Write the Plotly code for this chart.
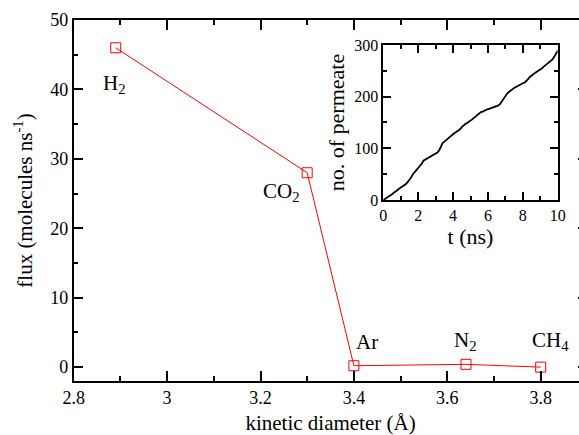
import plotly.graph_objects as go

# Main data
gases = ["H<sub>2</sub>", "CO<sub>2</sub>", "Ar", "N<sub>2</sub>", "CH<sub>4</sub>"]
kinetic_diameter = [2.89, 3.30, 3.40, 3.64, 3.80]
flux = [46.0, 28.0, 0.2, 0.4, 0.0]
label_x = [2.887, 3.245, 3.429, 3.638, 3.82]
label_y = [40.8, 25.2, 3.6, 3.8, 3.7]

# Inset data
t_ns = [round(i * 0.1, 1) for i in range(101)]
permeate = [0, 2, 4, 6, 9, 11, 14, 16, 19, 22, 24,
            26, 28, 31, 35, 39, 44, 50, 54, 57, 60,
            64, 70, 76, 78, 81, 83, 85, 86, 88, 90,
            92, 96, 104, 110, 113, 116, 118, 121, 124, 128,
            130, 132, 134, 137, 141, 145, 147, 149, 151, 153,
            156, 159, 162, 165, 168, 170, 171, 173, 175, 176,
            177, 178, 179, 180, 182, 183, 186, 191, 197, 202,
            206, 209, 211, 214, 217, 219, 221, 223, 225, 226,
            227, 230, 234, 238, 241, 244, 246, 248, 250, 252,
            255, 258, 261, 264, 266, 269, 272, 277, 283, 289]

FONT = "Liberation Serif"
W = 588  # figure slightly wider than the 579 px window; the right frame falls just outside, as in the reference

fig = go.Figure()
fig.add_trace(go.Scatter(
    x=kinetic_diameter, y=flux, mode="lines+markers",
    line=dict(color="red", width=1),
    marker=dict(symbol="square-open", size=10, color="red", line=dict(width=1, color="red")),
    showlegend=False, xaxis="x", yaxis="y"))
fig.add_trace(go.Scatter(
    x=t_ns, y=permeate, mode="lines",
    line=dict(color="black", width=1.8),
    showlegend=False, xaxis="x2", yaxis="y2"))

for g, lx, ly in zip(gases, label_x, label_y):
    fig.add_annotation(x=lx, y=ly, xref="x", yref="y", text=g, showarrow=False,
                       font=dict(family=FONT, size=21, color="black"),
                       xanchor="center", yanchor="middle")


def axis_style(size):
    return dict(showline=True, linecolor="black", linewidth=1.5, mirror="ticks",
                ticks="inside", tickcolor="black", tickwidth=1.5,
                showgrid=False, zeroline=False, automargin=False,
                tickfont=dict(family=FONT, size=size, color="black"))


fig.update_layout(
    width=W, height=435,
    margin=dict(l=0, r=0, t=0, b=0),
    font=dict(family=FONT, color="black", size=18),
    paper_bgcolor="white", plot_bgcolor="white",
    xaxis=dict(domain=[73.7 / W, 587.4 / W], range=[2.8, 3.9], tickvals=[2.8, 3.0, 3.2, 3.4, 3.6, 3.8],
               ticktext=["2.8", "3", "3.2", "3.4", "3.6", "3.8"], ticklen=10,
               minor=dict(ticks="inside", dtick=0.1, tick0=2.8, ticklen=5, tickcolor="black", tickwidth=1.5),
               title=dict(text="kinetic diameter (Å)", font=dict(family=FONT, size=21, color="black"), standoff=10),
               anchor="y", **axis_style(18)),
    yaxis=dict(domain=[0.1241, 0.954], range=[-2, 50], tickvals=[0, 10, 20, 30, 40, 50], ticklen=10,
               minor=dict(ticks="inside", dtick=5, tick0=0, ticklen=5, tickcolor="black", tickwidth=1.5),
               title=dict(text="flux (molecules ns<sup>-1</sup>)", font=dict(family=FONT, size=21, color="black"), standoff=12),
               anchor="x", **axis_style(18)),
    xaxis2=dict(domain=[383.3 / W, 557.7 / W], range=[0, 10], tickvals=[0, 2, 4, 6, 8, 10], ticklen=8,
                minor=dict(ticks="inside", dtick=1, tick0=0, ticklen=4, tickcolor="black", tickwidth=1.5),
                title=dict(text="t (ns)", font=dict(family=FONT, size=22, color="black"), standoff=0),
                anchor="y2", **axis_style(16)),
    yaxis2=dict(domain=[0.5402, 0.8966], range=[0, 300], tickvals=[0, 100, 200, 300], ticklen=8,
                minor=dict(ticks="inside", dtick=50, tick0=0, ticklen=4, tickcolor="black", tickwidth=1.5),
                title=dict(text="no. of permeate", font=dict(family=FONT, size=22, color="black"), standoff=4),
                anchor="x2", **axis_style(16)),
)

fig.write_html("out.html", config={"displayModeBar": False},
               post_script=("document.documentElement.style.overflow='hidden';"
                            "document.body.style.overflow='hidden';"
                            "document.body.style.margin='0';document.body.style.padding='0';"))
